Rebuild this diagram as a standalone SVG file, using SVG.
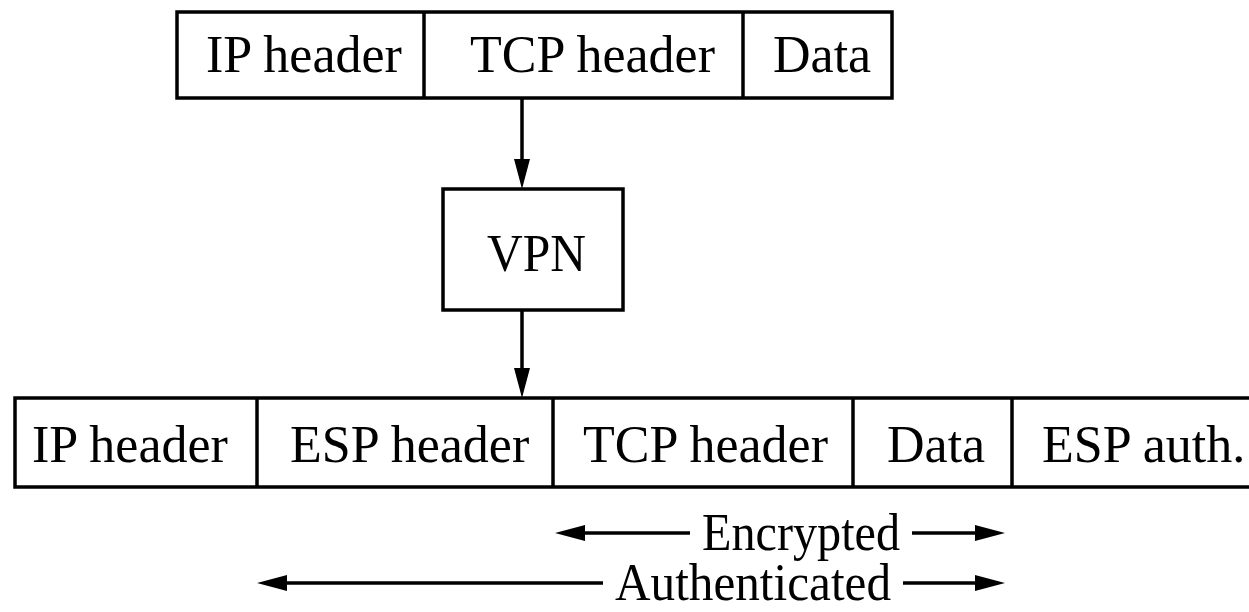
<svg xmlns="http://www.w3.org/2000/svg" width="1249" height="612" viewBox="0 0 1249 612">
<style>
.box{fill:#fff;stroke:#000;stroke-width:3.5}
.div{stroke:#000;stroke-width:3.5}
.lbl{font-family:"Liberation Serif","Times New Roman",serif;font-size:52px;fill:#000}
.conn{stroke:#000;stroke-width:3.5;fill:none}
</style>
<defs>
<marker id="ah" markerUnits="userSpaceOnUse" markerWidth="30" markerHeight="16" viewBox="0 -8 30 16" refX="0" refY="0" orient="auto">
<path d="M0,-8 L30,0 L0,8 z" fill="#000"/>
</marker>
</defs>
<g id="packet-in">
<rect class="box" x="177" y="12" width="715" height="86"/>
<line class="div" x1="424" y1="12" x2="424" y2="98"/>
<line class="div" x1="743" y1="12" x2="743" y2="98"/>
<text class="lbl" x="206" y="72">IP header</text>
<text class="lbl" x="470" y="72">TCP header</text>
<text class="lbl" x="773" y="72">Data</text>
</g>
<g id="vpn">
<rect class="box" x="443" y="189" width="180" height="121"/>
<text class="lbl" x="487" y="271" textLength="99" lengthAdjust="spacingAndGlyphs">VPN</text>
</g>
<g id="packet-out">
<rect class="box" x="15" y="398" width="1260" height="89"/>
<line class="div" x1="257" y1="398" x2="257" y2="487"/>
<line class="div" x1="553" y1="398" x2="553" y2="487"/>
<line class="div" x1="853" y1="398" x2="853" y2="487"/>
<line class="div" x1="1012" y1="398" x2="1012" y2="487"/>
<text class="lbl" x="32" y="462">IP header</text>
<text class="lbl" x="290" y="462">ESP header</text>
<text class="lbl" x="583" y="462">TCP header</text>
<text class="lbl" x="887" y="462">Data</text>
<text class="lbl" x="1042" y="462">ESP auth.</text>
</g>
<g id="encrypted">
<text class="lbl" x="702" y="550" textLength="198" lengthAdjust="spacingAndGlyphs">Encrypted</text>
</g>
<g id="authenticated">
<text class="lbl" x="615" y="600" textLength="276" lengthAdjust="spacingAndGlyphs">Authenticated</text>
</g>
<g id="connectors">
<line class="conn" x1="522" y1="98" x2="522" y2="159" marker-end="url(#ah)"/>
<line class="conn" x1="522" y1="310" x2="522" y2="368" marker-end="url(#ah)"/>
<line class="conn" x1="690" y1="533" x2="585" y2="533" marker-end="url(#ah)"/>
<line class="conn" x1="912" y1="533" x2="975" y2="533" marker-end="url(#ah)"/>
<line class="conn" x1="603" y1="583" x2="287" y2="583" marker-end="url(#ah)"/>
<line class="conn" x1="903" y1="583" x2="975" y2="583" marker-end="url(#ah)"/>
</g>
</svg>
